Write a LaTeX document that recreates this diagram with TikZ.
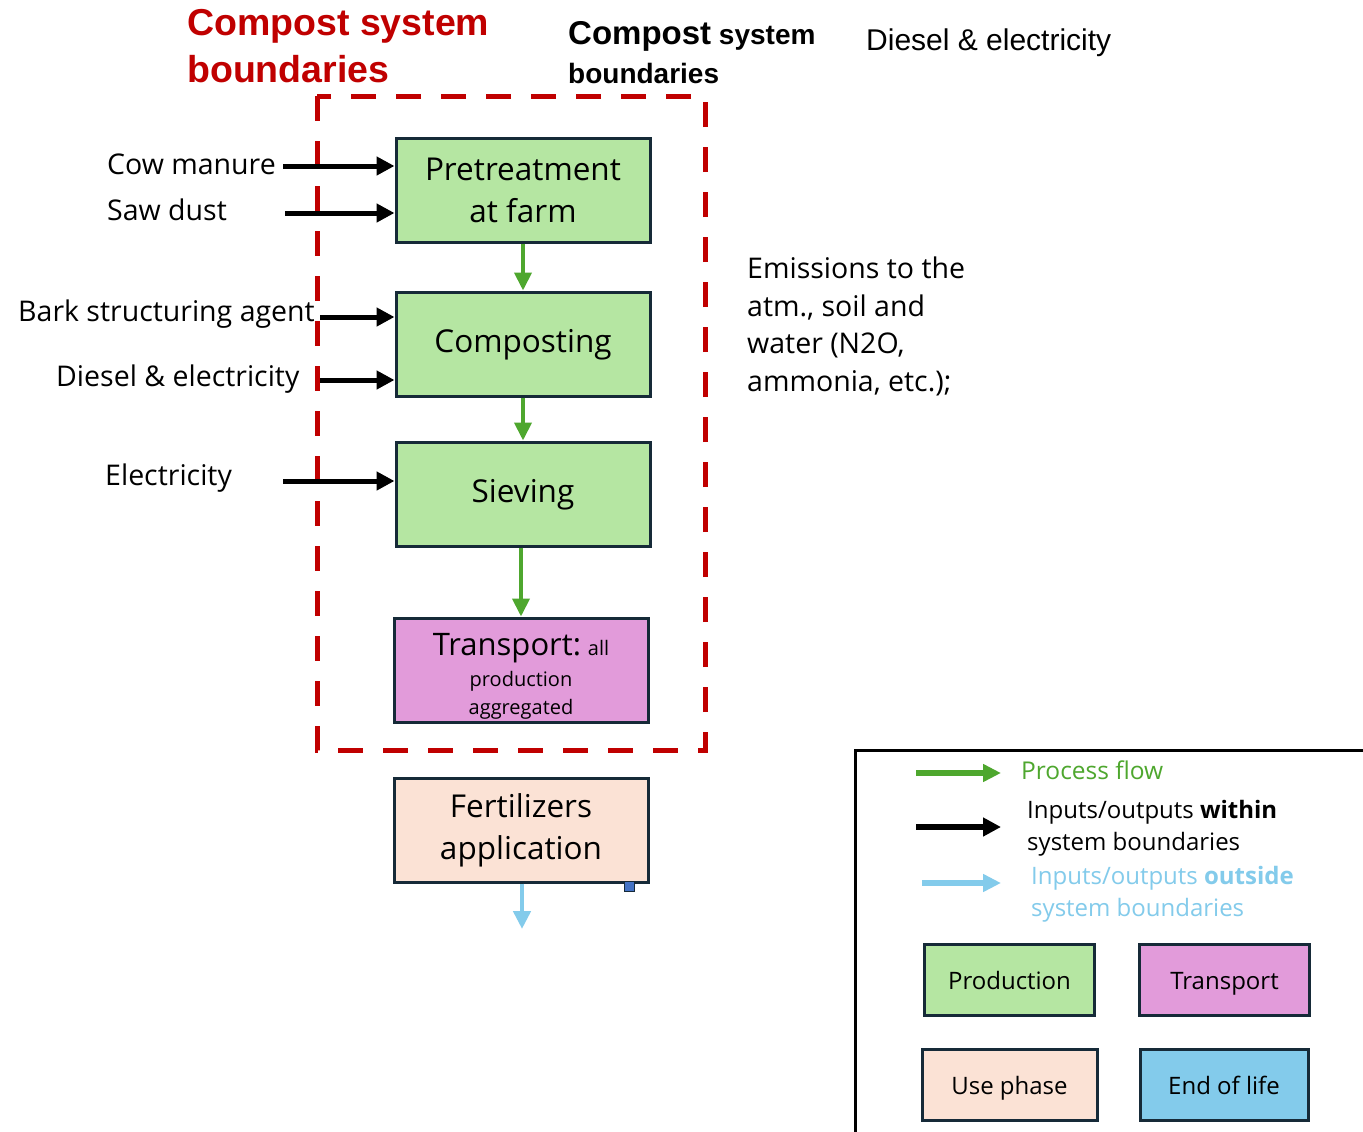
\documentclass[tikz,border=0pt]{standalone}
\usepackage{fontspec}
\setmainfont{Open Sans}
\newfontfamily\headfont{Liberation Sans}
\usetikzlibrary{arrows.meta,positioning}
\definecolor{bndred}{RGB}{192,0,0}
\definecolor{flowgreen}{RGB}{78,167,46}
\definecolor{prodgreen}{RGB}{181,230,162}
\definecolor{transpink}{RGB}{226,155,218}
\definecolor{usepeach}{RGB}{251,226,213}
\definecolor{eolblue}{RGB}{131,203,235}
\definecolor{boxedge}{RGB}{22,42,56}
\definecolor{handleblue}{RGB}{68,114,196}
\tikzset{
  procbox/.style={draw=boxedge,line width=3pt,minimum width=254pt,minimum height=104pt,
    align=center,inner sep=0pt,font=\fontsize{31.5}{42}\selectfont},
  keybox/.style={draw=boxedge,line width=3pt,minimum width=170pt,minimum height=71pt,
    inner sep=0pt,text height=20pt,text depth=2pt,font=\fontsize{24}{30}\selectfont},
  flowarr/.style={draw=flowgreen,line width=4pt,-{Triangle[length=18pt,width=17pt]}},
  inarr/.style={draw=black,line width=5pt,-{Triangle[length=18pt,width=18pt]}},
  outarr/.style={draw=eolblue,line width=4.5pt,-{Triangle[length=18pt,width=17pt]}},
  sidetext/.style={inner sep=0pt,font=\fontsize{28.5}{37.5}\selectfont},
  keytext/.style={inner sep=0pt,align=left,font=\fontsize{24}{32}\selectfont}
}
\begin{document}
\begin{tikzpicture}[x=1pt,y=-1pt]
            \useasboundingbox[fill=white] (0,0) rectangle (1363,1132);
            \node[anchor=north west,inner sep=0pt,align=left,text=bndred,
              font=\headfont\bfseries\fontsize{37.5}{47}\selectfont] (bndtitle) at (187,9)
              {Compost system\\boundaries};
            \node[anchor=north west,inner sep=0pt,align=left,
              font=\headfont\bfseries\fontsize{28}{39}\selectfont] (bndhead) at (568,21)
              {{\fontsize{33}{39}\selectfont Compost} system\\boundaries};
            \node[anchor=west,inner sep=0pt,font=\headfont\fontsize{30}{36}\selectfont]
              (dieselhead) at (866,43) {Diesel \& electricity};

            \draw[bndred,line width=5pt,dash pattern=on 25pt off 20pt]
              (317,96) rectangle (705,750);

            \node[procbox,fill=prodgreen] (pretreat) at (523,190) {Pretreatment\\at farm};
            \node[procbox,fill=prodgreen] (compost) at (523,344) {Composting\strut};
            \node[procbox,fill=prodgreen] (sieving) at (523,494) {Sieving\strut};
            \node[procbox,fill=transpink,font=\fontsize{20}{28}\selectfont] (transport) at (521,670)
              {\rule{0pt}{34pt}{\fontsize{31}{34}\selectfont Transport:} all\\[3pt]production\\aggregated};
            \node[procbox,fill=usepeach] (fertil) at (521,830) {Fertilizers\\application};
            \fill[handleblue,draw=boxedge,line width=0.8pt] (624,881) rectangle (634,891);

            \draw[flowarr] (pretreat) -- (compost);
            \draw[flowarr] (compost) -- (sieving);
            \draw[flowarr] (sieving.south -| transport.north) -- (transport);

            \coordinate (fertout) at (522,929);
            \draw[outarr] (fertil.south -| fertout) -- (fertout);

            \node[sidetext,anchor=east] (cowlbl) at (276,164) {Cow manure};
            \node[sidetext,anchor=west] (sawlbl) at (107,210) {Saw dust};
            \node[sidetext,anchor=west] (barklbl) at (18,314) {Bark structuring agent};
            \node[sidetext,anchor=west] (diesellbl) at (56,379) {Diesel \& electricity};
            \node[sidetext,anchor=west] (eleclbl) at (105,478) {Electricity};

            \coordinate (cowin) at (283,166);
            \coordinate (sawin) at (285,213);
            \coordinate (barkin) at (320,317);
            \coordinate (dieselin) at (320,380);
            \coordinate (elecin) at (283,481);
            \draw[inarr] (cowin) -- (cowin -| pretreat.west);
            \draw[inarr] (sawin) -- (sawin -| pretreat.west);
            \draw[inarr] (barkin) -- (barkin -| compost.west);
            \draw[inarr] (dieselin) -- (dieselin -| compost.west);
            \draw[inarr] (elecin) -- (elecin -| sieving.west);

            \node[sidetext,anchor=north west,align=left] (emis) at (747,257)
              {Emissions to the\\atm., soil and\\water (N2O,\\ammonia, etc.);};

            \draw[line width=3pt] (855,1132) -- (855,750) -- (1363,750);
            \coordinate (kflowa) at (916,773);
            \coordinate (kflowb) at (1001,773);
            \coordinate (kina) at (916,827);
            \coordinate (kinb) at (1001,827);
            \coordinate (kouta) at (922,883);
            \coordinate (koutb) at (1001,883);
            \draw[flowarr,line width=6pt] (kflowa) -- (kflowb);
            \draw[inarr,line width=6pt] (kina) -- (kinb);
            \draw[outarr,line width=6pt] (kouta) -- (koutb);
            \node[keytext,anchor=west,text=flowgreen,font=\fontsize{24.5}{32}\selectfont]
              (kflowtxt) at (1021,770) {Process flow};
            \node[keytext,anchor=west] (kintxt) at (1027,828)
              {Inputs/outputs \textbf{within}\\system boundaries};
            \node[keytext,anchor=west,text=eolblue] (kouttxt) at (1031,894)
              {Inputs/outputs \textbf{outside}\\system boundaries};

            \node[keybox,fill=prodgreen] (kprod) at (1009.5,980) {Production};
            \node[keybox,fill=transpink] (ktrans) at (1224.5,980) {Transport};
            \node[keybox,fill=usepeach,minimum width=175pt] (kuse) at (1009.5,1085) {Use phase};
            \node[keybox,fill=eolblue,minimum width=168pt] (keol) at (1224,1085) {End of life};
\end{tikzpicture}
\end{document}
